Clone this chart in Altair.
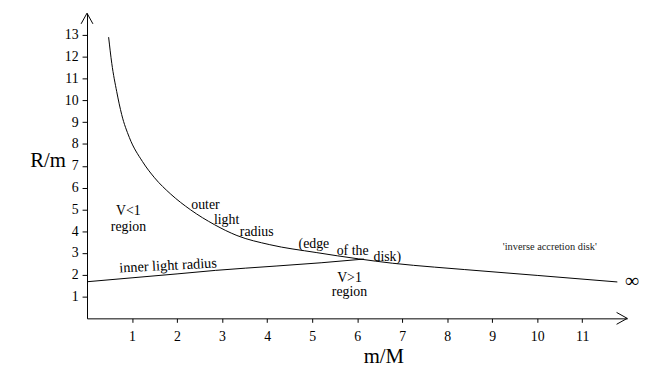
import altair as alt
import pandas as pd

# outer light radius
outer_x = [0.48, 0.55, 0.66, 0.77, 0.94, 1.23, 1.5, 1.86, 2.3, 2.83, 3.33, 4.06, 5.09, 6.03, 6.78, 7.72, 8.38, 10.0, 11.78]
outer_y = [12.9, 11.7, 10.4, 9.35, 8.3, 7.2, 6.45, 5.7, 4.98, 4.3, 3.8, 3.38, 3.02, 2.73, 2.53, 2.35, 2.24, 1.97, 1.67]

# inner light radius
inner_x = [0.0, 1.0, 2.0, 2.85, 4.2, 5.2, 6.15]
inner_y = [1.68, 1.86, 2.04, 2.2, 2.4, 2.55, 2.72]

# annotation labels (data coordinates)
label_text = ["V<1", "region", "outer", "light", "radius", "(edge", "of the", "disk)", "V>1", "region"]
label_x = [0.92, 0.92, 2.63, 3.1, 3.77, 5.04, 5.9, 6.67, 5.83, 5.83]
label_y = [4.9, 4.2, 5.2, 4.5, 3.98, 3.39, 3.08, 2.8, 1.86, 1.2]

inner_label = ["inner light radius"]
inner_label_x = [1.8]
inner_label_y = [2.4]

small_label = ["'inverse accretion disk'"]
small_label_x = [10.28]
small_label_y = [3.26]

inf_label = ["\u221e"]
inf_x = [12.1]
inf_y = [1.72]

x_ticks = list(range(1, 12))
y_ticks = list(range(1, 14))
x_max = 12
y_max = 14

FONT = "Liberation Serif"

xs = alt.Scale(domain=[0, x_max], nice=False, zero=False)
ys = alt.Scale(domain=[0, y_max], nice=False, zero=False)

x_axis = alt.Axis(values=x_ticks, tickCount=len(x_ticks), grid=False, tickSize=4, tickColor="black",
                  domainColor="black",
                  labelFont=FONT, labelFontSize=14, labelColor="black", labelPadding=7,
                  labelOverlap=False,
                  title="m/M", titleFont=FONT, titleFontSize=21, titleFontWeight="normal",
                  titleColor="black", titleX=300, titleY=39, titleAlign="center", titleBaseline="middle")
y_axis = alt.Axis(values=y_ticks, tickCount=len(y_ticks), grid=False, tickSize=5, tickColor="black",
                  domainColor="black",
                  labelFont=FONT, labelFontSize=14, labelColor="black", labelPadding=4,
                  labelOverlap=False,
                  title="R/m", titleFont=FONT, titleFontSize=21, titleFontWeight="normal",
                  titleColor="black", titleAngle=0, titleX=-40, titleY=149,
                  titleAlign="center", titleBaseline="middle")

outer_df = pd.DataFrame({"x": outer_x, "y": outer_y, "o": range(len(outer_x))})
inner_df = pd.DataFrame({"x": inner_x, "y": inner_y, "o": range(len(inner_x))})

outer = alt.Chart(outer_df).mark_line(color="black", strokeWidth=1, interpolate="monotone").encode(
    x=alt.X("x:Q", scale=xs, axis=x_axis),
    y=alt.Y("y:Q", scale=ys, axis=y_axis),
    order="o:Q",
)
inner = alt.Chart(inner_df).mark_line(color="black", strokeWidth=1, interpolate="monotone").encode(
    x=alt.X("x:Q", scale=xs),
    y=alt.Y("y:Q", scale=ys),
    order="o:Q",
)

labels = alt.Chart(pd.DataFrame({"x": label_x, "y": label_y, "t": label_text})).mark_text(
    font=FONT, fontSize=14, color="black", align="center", baseline="middle").encode(
    x=alt.X("x:Q", scale=xs), y=alt.Y("y:Q", scale=ys), text="t:N")

inner_lab = alt.Chart(pd.DataFrame({"x": inner_label_x, "y": inner_label_y, "t": inner_label})).mark_text(
    font=FONT, fontSize=14.5, color="black", align="center", baseline="middle", angle=357).encode(
    x=alt.X("x:Q", scale=xs), y=alt.Y("y:Q", scale=ys), text="t:N")

small_lab = alt.Chart(pd.DataFrame({"x": small_label_x, "y": small_label_y, "t": small_label})).mark_text(
    font=FONT, fontSize=10.5, color="#222", align="center", baseline="middle").encode(
    x=alt.X("x:Q", scale=xs), y=alt.Y("y:Q", scale=ys), text="t:N")

inf_lab = alt.Chart(pd.DataFrame({"x": inf_x, "y": inf_y, "t": inf_label})).mark_text(
    font=FONT, fontSize=20, color="black", align="center", baseline="middle", clip=False).encode(
    x=alt.X("x:Q", scale=xs), y=alt.Y("y:Q", scale=ys), text="t:N")

# arrowheads at the ends of the axes
x_arrow = alt.Chart(pd.DataFrame({"x": [x_max], "y": [0]})).mark_point(
    shape="M -1.8 -1 L 0 0 L -1.8 1", size=144, filled=False, stroke="black", strokeWidth=1, opacity=1).encode(
    x=alt.X("x:Q", scale=xs), y=alt.Y("y:Q", scale=ys))
y_arrow = alt.Chart(pd.DataFrame({"x": [0], "y": [y_max]})).mark_point(
    shape="M -1 1.8 L 0 0 L 1 1.8", size=144, filled=False, stroke="black", strokeWidth=1, opacity=1).encode(
    x=alt.X("x:Q", scale=xs), y=alt.Y("y:Q", scale=ys))

chart = alt.layer(outer, inner, labels, inner_lab, small_lab, inf_lab, x_arrow, y_arrow).properties(
    width=547, height=309,
    autosize=alt.AutoSizeParams(type="none"),
    padding={"left": 80, "top": 3, "right": 20, "bottom": 47},
    background="white",
).configure_view(stroke=None)

chart.save("out.html", embed_options={"renderer": "svg", "actions": False})
